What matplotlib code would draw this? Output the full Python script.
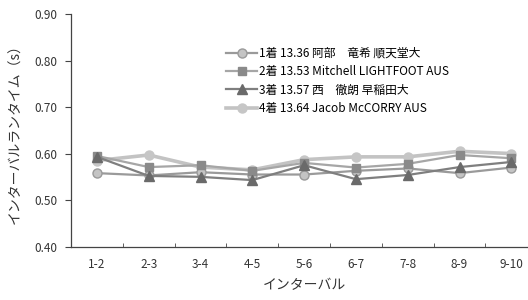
import matplotlib
matplotlib.use("Agg")
import matplotlib.pyplot as plt
import numpy as np

plt.rcParams['font.family'] = ['Noto Sans CJK JP', 'DejaVu Sans']

intervals = ["1-2", "2-3", "3-4", "4-5", "5-6", "6-7", "7-8", "8-9", "9-10"]
names = ["1着 13.36 阿部　竜希 順天堂大",
         "2着 13.53 Mitchell LIGHTFOOT AUS",
         "3着 13.57 西　徹朗 早稲田大",
         "4着 13.64 Jacob McCORRY AUS"]
first = [0.558, 0.553, 0.560, 0.555, 0.555, 0.563, 0.568, 0.558, 0.570]
second = [0.595, 0.571, 0.575, 0.563, 0.580, 0.570, 0.578, 0.597, 0.590]
third = [0.593, 0.552, 0.550, 0.543, 0.575, 0.545, 0.554, 0.571, 0.582]
fourth = [0.585, 0.597, 0.571, 0.565, 0.587, 0.593, 0.593, 0.605, 0.600]

fig = plt.figure(figsize=(5.28, 3.0), dpi=100)
ax = fig.add_axes([0.1345, 0.178, 0.883, 0.775])

x = np.arange(len(intervals))
ax.plot(x, first, color="#9a9a9a", lw=1.6, marker="o", ms=6.5,
        mfc="#c4c4c4", mec="#9a9a9a", mew=1, label=names[0], zorder=3)
ax.plot(x, second, color="#a6a6a6", lw=1.6, marker="s", ms=6,
        mfc="#8a8a8a", mec="#8a8a8a", label=names[1], zorder=4)
ax.plot(x, third, color="#7f7f7f", lw=1.6, marker="^", ms=6.5,
        mfc="#6a6a6a", mec="#6a6a6a", label=names[2], zorder=5)
ax.plot(x, fourth, color="#c3c3c3", lw=2.6, marker="o", ms=6.5,
        mfc="#c6c6c6", mec="#c6c6c6", label=names[3], zorder=2)

ax.set_xlim(-0.5, len(intervals) - 0.5)
ax.set_ylim(0.40, 0.90)
ax.set_yticks(np.arange(0.40, 0.901, 0.10))
ax.set_yticklabels(["%.2f" % v for v in np.arange(0.40, 0.901, 0.10)])
ax.set_xticks(x)
ax.set_xticklabels(intervals)
ax.set_xticks(np.arange(0.5, len(intervals) - 0.5, 1), minor=True)
ax.tick_params(axis="x", which="major", length=0, pad=8, labelsize=8.5, colors="#333333")
ax.tick_params(axis="x", which="minor", direction="in", length=3, color="#444444")
ax.tick_params(axis="y", direction="out", length=4, labelsize=8.5, colors="#444444",
               labelcolor="#333333", pad=6)

for s in ["top", "right"]:
    ax.spines[s].set_visible(False)
for s in ["left", "bottom"]:
    ax.spines[s].set_color("#444444")
    ax.spines[s].set_linewidth(0.9)

ax.set_xlabel("インターバル", fontsize=10, color="#333333", labelpad=5)
ax.set_ylabel("インターバルランタイム（s）", fontsize=10, color="#333333", labelpad=8)

ax.legend(loc="upper left", bbox_to_anchor=(0.31, 0.905), frameon=False,
          fontsize=8.5, handlelength=2.6, labelspacing=0.45, handletextpad=0.2)

fig.savefig("out.png", dpi=100)
